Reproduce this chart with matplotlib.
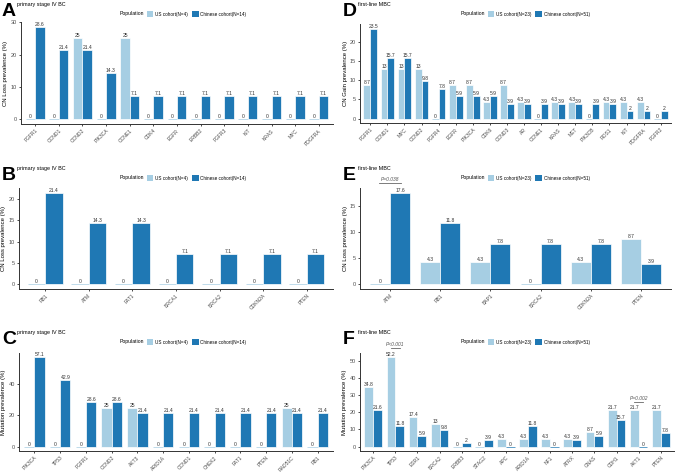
import numpy as np
import matplotlib
matplotlib.use("Agg")
import matplotlib.pyplot as plt
from matplotlib.patches import Patch

plt.rcParams["font.family"] = ["Liberation Sans", "DejaVu Sans"]

# ---- data ----
a_genes = ["FGFR1", "CCND1", "CCND2", "PIK3CA", "CCNE1", "CDK4", "EGFR", "ERBB2",
           "FGFR3", "KIT", "KRAS", "MYC", "PDGFRA"]
a_us = [0, 0, 25, 0, 25, 0, 0, 0, 0, 0, 0, 0, 0]
a_cn = [28.6, 21.4, 21.4, 14.3, 7.1, 7.1, 7.1, 7.1, 7.1, 7.1, 7.1, 7.1, 7.1]

b_genes = ["RB1", "ATM", "FAT1", "BRCA1", "BRCA2", "CDKN2A", "PTEN"]
b_us = [0, 0, 0, 0, 0, 0, 0]
b_cn = [21.4, 14.3, 14.3, 7.1, 7.1, 7.1, 7.1]

c_genes = ["PIK3CA", "TP53", "FGFR1", "CCND2", "AKT3", "ARID1A", "CCND1", "CHEK2",
           "FAT1", "PTEN", "RAD51C", "RB1"]
c_us = [0, 0, 0, 25, 25, 0, 0, 0, 0, 0, 25, 0]
c_cn = [57.1, 42.9, 28.6, 28.6, 21.4, 21.4, 21.4, 21.4, 21.4, 21.4, 21.4, 21.4]

d_genes = ["FGFR1", "CCND1", "MYC", "CCND2", "FGFR4", "EGFR", "PIK3CA", "CDK6", "CCND3",
           "AR", "CCNE1", "KRAS", "MET", "PIK3CB", "ROS1", "KIT", "PDGFRA", "FGFR2"]
d_us = [8.7, 13, 13, 13, 0, 8.7, 8.7, 4.3, 8.7, 4.3, 0, 4.3, 4.3, 0, 4.3, 4.3, 4.3, 0]
d_cn = [23.5, 15.7, 15.7, 9.8, 7.8, 5.9, 5.9, 5.9, 3.9, 3.9, 3.9, 3.9, 3.9, 3.9, 3.9, 2, 2, 2]

e_genes = ["ATM", "RB1", "BAP1", "BRCA2", "CDKN2A", "PTEN"]
e_us = [0, 4.3, 4.3, 0, 4.3, 8.7]
e_cn = [17.6, 11.8, 7.8, 7.8, 7.8, 3.9]

f_genes = ["PIK3CA", "TP53", "ESR1", "BRCA2", "ERBB3", "STAG2", "APC", "ARID1A", "NF1",
           "ATRX", "GNAS", "CDH1", "AKT1", "PTEN"]
f_us = [34.8, 52.2, 17.4, 13, 0, 0, 4.3, 4.3, 4.3, 4.3, 8.7, 21.7, 21.7, 21.7]
f_cn = [21.6, 11.8, 5.9, 9.8, 2, 3.9, 0, 11.8, 0, 3.9, 5.9, 15.7, 0, 7.8]

LIGHT = "#a6cee3"
DARK = "#1f78b4"
W, H = 676, 472

fig = plt.figure(figsize=(W / 100, H / 100), dpi=100)
fig.patch.set_facecolor("white")
renderer = fig.canvas.get_renderer()


def px_axes(left, top, right, bottom):
    return fig.add_axes([left / W, 1 - bottom / H, (right - left) / W, (bottom - top) / H])


def panel(rect, genes, us, cn, ylabel, yticks, letter, subtitle, n_us, n_cn,
          head_y, letter_x, pop_x):
    ax = px_axes(*rect)
    x = np.arange(len(genes))
    bw = 0.4
    for vals, off, col in [(us, -bw / 2, LIGHT), (cn, bw / 2, DARK)]:
        edges = [col if v == 0 else "white" for v in vals]
        ax.bar(x + off, vals, width=bw, color=col, edgecolor=edges, linewidth=0.5)
        for xi, v in zip(x + off, vals):
            ax.text(xi, v, f"{v:g}", ha="center", va="bottom", fontsize=3.6,
                    color="#333333")
    top = max(max(us), max(cn))
    ax.set_ylim(-0.05 * top, 1.05 * top)
    ax.set_xlim(-0.6, len(genes) - 0.4)
    ax.set_xticks(x)
    ax.set_xticklabels(genes, rotation=45, ha="right", rotation_mode="anchor",
                       fontsize=3.6, color="#4d4d4d")
    ax.set_yticks(yticks)
    ax.tick_params(axis="y", labelsize=4, labelcolor="#4d4d4d", length=1.5, width=0.5,
                   pad=1.5)
    ax.tick_params(axis="x", length=1.5, width=0.5, pad=1.5)
    ax.set_ylabel(ylabel, fontsize=4.3, labelpad=1.5)
    for s in ["top", "right"]:
        ax.spines[s].set_visible(False)
    for s in ["left", "bottom"]:
        ax.spines[s].set_linewidth(0.7)
        ax.spines[s].set_color("#333333")

    # panel letter and subtitle
    fig.text(letter_x / W, 1 - (head_y - 2) / H, letter, fontsize=14,
             fontweight="bold", va="top", ha="left")
    fig.text((letter_x + 15) / W, 1 - (head_y - 3) / H, subtitle, fontsize=3.9,
             va="top", ha="left")

    # legend with side title
    yleg = 1 - (head_y + 9) / H
    t = fig.text(pop_x / W, yleg, "Population", fontsize=3.7, va="center", ha="left")
    x_end = t.get_window_extent(renderer=renderer).x1
    handles = [Patch(facecolor=LIGHT), Patch(facecolor=DARK)]
    labels = [f"US cohort(N={n_us})", f"Chinese cohort(N={n_cn})"]
    fig.legend(handles, labels, ncol=2, frameon=False, fontsize=3.3,
               loc="center left", bbox_to_anchor=((x_end + 2) / W, yleg),
               handlelength=1.5, handleheight=1.5, handletextpad=0.4,
               columnspacing=0.8, borderpad=0, borderaxespad=0)
    return ax


def bracket(ax, xc, y_line, y_text, label):
    ax.plot([xc - 0.22, xc + 0.22], [y_line, y_line], color="#666666", lw=0.6,
            clip_on=False)
    ax.text(xc, y_text, label, fontsize=3.5, style="italic", color="#555555",
            ha="center", va="bottom", clip_on=False)


panel((21, 22, 333, 124), a_genes, a_us, a_cn, "CN Loss prevalence (%)", [0, 10, 20, 30],
      "A", "primary stage IV BC", 4, 14, 5, 2, 120)
panel((19, 188, 333, 289), b_genes, b_us, b_cn, "CN Loss prevalence (%)", [0, 5, 10, 15, 20],
      "B", "primary stage IV BC", 4, 14, 169, 2, 120)
panel((19, 353, 333, 451), c_genes, c_us, c_cn, "Mutation prevalence (%)", [0, 20, 40],
      "C", "primary stage IV BC", 4, 14, 333, 2, 120)
panel((360, 24, 671, 123), d_genes, d_us, d_cn, "CN Gain prevalence (%)", [0, 5, 10, 15, 20],
      "D", "first-line MBC", 23, 51, 5, 343, 461)
ax_e = panel((360, 188, 671, 289), e_genes, e_us, e_cn, "CN Loss prevalence (%)",
             [0, 5, 10, 15], "E", "first-line MBC", 23, 51, 169, 343, 461)
ax_f = panel((360, 353, 674, 451), f_genes, f_us, f_cn, "Mutation prevalence (%)",
             [0, 10, 20, 30, 40, 50], "F", "first-line MBC", 23, 51, 333, 343, 461)

bracket(ax_e, 0, 19.4, 19.7, "P=0.038")
bracket(ax_f, 1, 57.5, 58.3, "P<0.001")
bracket(ax_f, 12, 26.0, 26.8, "P=0.002")

fig.savefig("out.png", dpi=100, facecolor="white")
